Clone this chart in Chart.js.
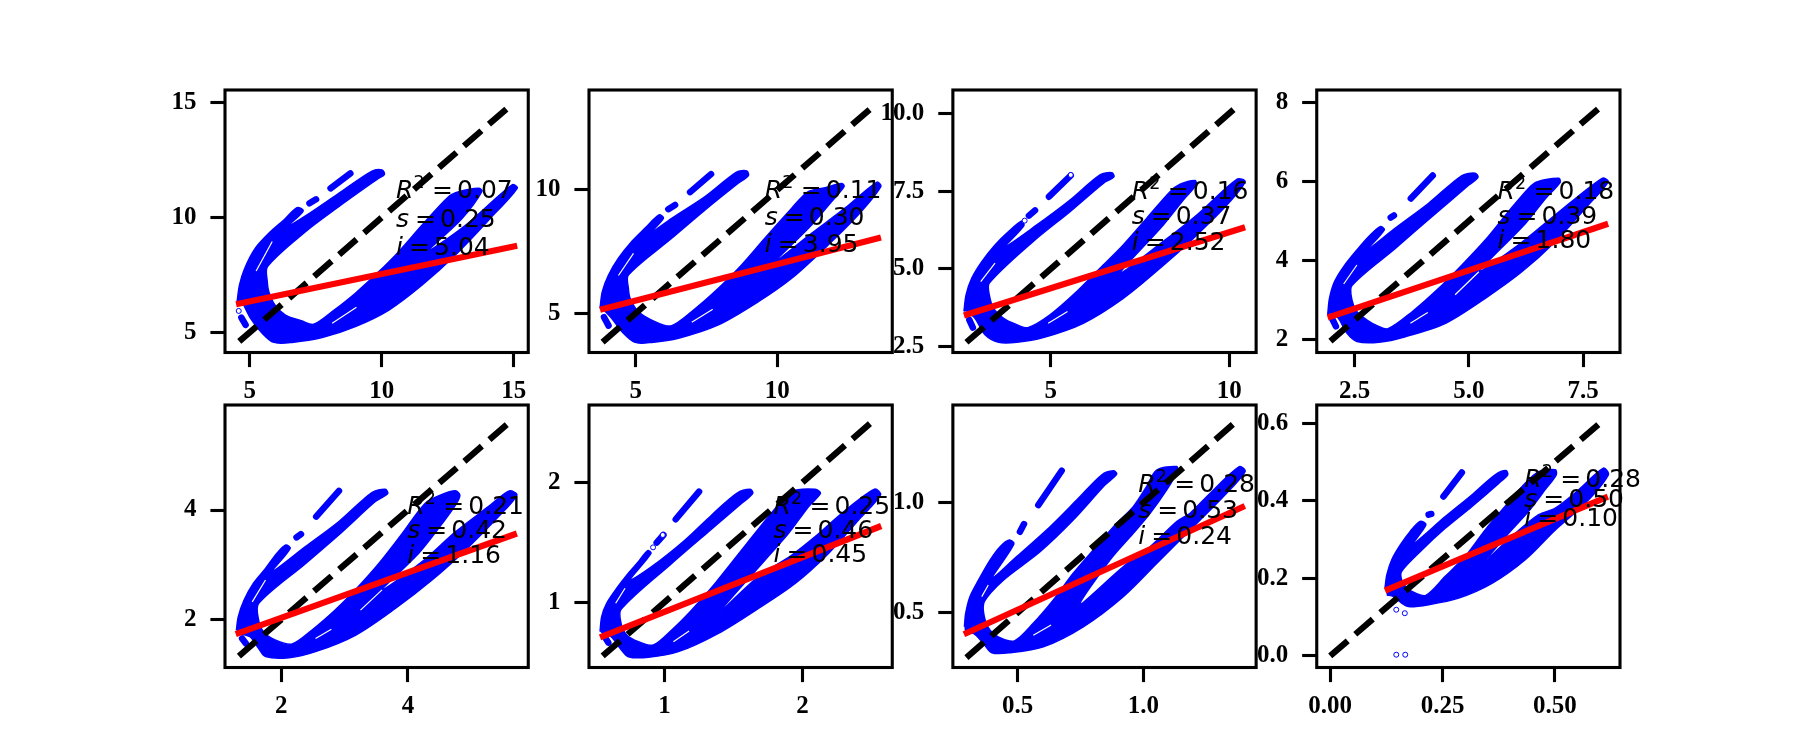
<!DOCTYPE html>
<html><head><meta charset="utf-8">
<style>html,body{margin:0;padding:0;background:#fff;width:1800px;height:750px;overflow:hidden}canvas{position:absolute}</style>
<script src="https://cdn.jsdelivr.net/npm/chart.js@4/dist/chart.umd.min.js"></script>
</head><body>
<script>
// Axis limits
const xLimits=[[4.06,15.55],[3.35,14.06],[2.26,10.75],[1.67,8.31],[1.11,5.90],[0.454,2.65],[0.242,1.449],[-0.03,0.645]];
const yLimits=[[4.12,15.55],[3.41,14.05],[2.31,10.75],[1.68,8.31],[1.12,5.92],[0.457,2.644],[0.251,1.444],[-0.03,0.647]];
const xTicks=[[5,10,15],[5,10],[5,10],[2.5,5,7.5],[2,4],[1,2],[0.5,1],[0,0.25,0.5]];
const yTicks=[[5,10,15],[5,10],[2.5,5,7.5,10],[2,4,6,8],[2,4],[1,2],[0.5,1],[0,0.2,0.4,0.6]];
const xDecimals=[0,0,0,1,0,0,1,2];
const yDecimals=[0,0,1,0,0,0,1,1];
// Fit statistics
const r2Values=['0.07','0.11','0.16','0.18','0.21','0.25','0.28','0.28'];
const slopeValues=['0.25','0.30','0.37','0.39','0.42','0.46','0.53','0.50'];
const interceptValues=['5.04','3.95','2.52','1.80','1.16','0.45','0.24','0.10'];
const statX=[10.54,9.56,7.27,5.63,3.99,1.79,0.98,0.432];
const statY=[[10.83,9.60,8.37],[9.66,8.58,7.5],[7.25,6.43,5.62],[5.56,4.92,4.31],[3.93,3.48,3.04],[1.74,1.54,1.34],[1.05,0.929,0.812],[0.435,0.384,0.335]];
// Regression lines [x0,y0,x1,y1]
const fitLines=[[4.48,6.22,15.13,8.77],[3.74,5.14,13.66,8.07],[2.57,3.50,10.44,6.34],[1.91,2.56,8.05,4.93],[1.28,1.73,5.72,3.57],[0.534,0.708,2.57,1.636],[0.286,0.402,1.404,0.985],[0.122,0.168,0.618,0.411]];
// Identity line ends
const identityLines=[[4.6,14.8],[3.83,13.3],[2.64,10.16],[1.97,7.84],[1.33,5.56],[0.553,2.50],[0.296,1.365],[0,0.597]];
// Scatter cloud outlines, x,y pairs
const cloud1=[4.52,6.34,4.61,7.06,4.81,7.79,5.21,8.66,5.72,9.31,6.29,9.89,6.79,10.43,7.02,10.28,6.41,9.60,7.11,10.07,8.37,11.05,9.63,12.02,10.01,12.07,10.10,11.88,9.82,11.66,8.37,10.47,7.11,9.38,5.67,7.86,5.66,7.21,5.72,6.77,5.95,6.19,6.35,5.75,6.98,5.49,7.42,5.35,8.12,5.90,9.0,6.70,9.89,7.64,10.64,8.51,11.53,9.67,12.54,10.91,12.92,11.12,13.67,11.27,13.80,11.15,13.04,9.96,11.72,8.51,13.11,9.60,14.94,11.42,15.13,11.27,14.05,9.89,12.79,8.37,11.53,7.06,10.27,5.97,9.0,5.25,7.74,4.77,6.60,4.56,5.91,4.56,5.47,4.96,5.03,5.61,4.71,6.34];
const cloud2=[3.74,5.20,3.82,5.88,4.04,6.55,4.39,7.23,4.86,7.91,5.33,8.45,5.82,8.99,5.98,8.85,5.51,8.24,6.27,8.85,7.45,9.73,8.56,10.72,8.92,10.77,8.98,10.58,8.62,10.27,7.45,9.19,6.27,8.04,4.74,6.55,4.74,6.01,4.80,5.61,5.09,5.07,5.68,4.66,6.25,4.49,6.98,5.07,7.92,6.01,8.74,6.96,9.56,8.04,10.51,9.26,11.09,9.93,11.68,10.09,12.27,10.26,12.36,10.14,11.92,9.53,11.21,8.58,9.92,7.09,11.21,8.24,12.39,9.26,13.51,10.31,13.66,10.14,12.86,8.99,11.68,7.64,10.51,6.42,9.33,5.47,7.92,4.53,6.51,3.99,5.56,3.82,4.98,3.82,4.51,4.26,4.15,4.80,3.82,5.20];
const cloud3=[2.57,3.63,2.63,4.16,2.79,4.70,3.07,5.23,3.44,5.77,3.82,6.20,4.19,6.54,4.25,6.39,3.72,5.71,4.61,6.41,5.54,7.21,6.38,8.02,6.71,8.09,6.77,7.96,6.47,7.75,5.54,6.84,4.51,5.88,3.28,4.54,3.28,4.16,3.40,3.73,3.68,3.41,4.00,3.23,4.36,3.11,4.98,3.52,5.73,4.27,6.38,5.02,7.03,5.77,7.69,6.63,8.34,7.48,8.62,7.72,9.04,7.84,9.07,7.70,8.71,7.21,8.15,6.41,6.94,4.86,8.15,5.88,9.09,6.73,10.21,7.88,10.44,7.80,9.93,7.05,8.99,5.98,8.06,5.02,7.03,4.05,5.91,3.25,4.79,2.79,4.05,2.64,3.54,2.64,3.16,2.88,2.88,3.41,2.65,3.63];
const cloud4=[1.91,2.63,1.95,3.05,2.06,3.47,2.26,3.85,2.55,4.27,2.81,4.61,3.06,4.86,3.15,4.78,2.77,4.27,3.39,4.82,4.12,5.45,4.85,6.15,5.14,6.21,5.20,6.10,5.00,5.91,4.19,5.11,3.39,4.31,2.44,3.37,2.44,3.01,2.55,2.71,2.77,2.50,2.99,2.36,3.23,2.28,3.76,2.71,4.34,3.30,4.85,3.89,5.36,4.52,5.87,5.24,6.31,5.83,6.49,5.99,6.97,6.08,7.00,5.98,6.68,5.57,6.24,4.94,5.22,3.72,6.09,4.40,6.89,5.15,7.92,6.08,8.05,5.99,7.62,5.41,6.89,4.48,6.16,3.72,5.36,3.05,4.49,2.42,3.61,2.08,3.03,1.94,2.55,1.96,2.33,2.17,2.14,2.55,1.97,2.67];
const cloud5=[1.29,1.80,1.32,2.05,1.41,2.35,1.56,2.66,1.75,2.93,1.93,3.21,2.07,3.36,2.14,3.30,1.85,2.87,2.38,3.33,2.91,3.79,3.43,4.32,3.64,4.38,3.68,4.30,3.48,4.15,2.96,3.60,2.38,3.02,1.64,2.29,1.64,1.99,1.72,1.77,1.91,1.62,2.17,1.55,2.48,1.80,2.85,2.17,3.17,2.54,3.54,3.02,3.91,3.57,4.27,4.12,4.51,4.27,4.75,4.35,4.82,4.27,4.75,4.09,4.48,3.66,4.17,3.21,3.59,2.54,4.22,3.05,4.75,3.60,5.27,4.06,5.60,4.35,5.72,4.27,5.43,3.88,4.91,3.27,4.38,2.72,3.80,2.20,3.17,1.71,2.54,1.41,2.12,1.30,1.75,1.32,1.64,1.47,1.51,1.68,1.35,1.74];
const cloud6=[0.534,0.756,0.546,0.881,0.582,0.992,0.655,1.117,0.739,1.242,0.812,1.339,0.879,1.431,0.903,1.408,0.751,1.186,0.908,1.297,1.150,1.519,1.343,1.728,1.524,1.908,1.621,1.942,1.640,1.908,1.560,1.825,1.319,1.589,1.053,1.325,0.686,0.942,0.686,0.825,0.727,0.728,0.812,0.672,0.920,0.644,1.053,0.769,1.198,0.936,1.367,1.158,1.560,1.436,1.754,1.714,1.923,1.922,2.092,1.942,2.130,1.908,2.043,1.797,1.899,1.575,1.729,1.353,1.391,0.908,1.681,1.214,1.923,1.394,2.092,1.547,2.285,1.742,2.522,1.942,2.565,1.894,2.406,1.686,2.188,1.408,1.947,1.158,1.681,0.950,1.391,0.742,1.101,0.589,0.884,0.542,0.739,0.547,0.679,0.617,0.614,0.714,0.558,0.728];
const cloud7=[0.288,0.436,0.293,0.497,0.310,0.573,0.344,0.648,0.390,0.739,0.430,0.800,0.467,0.830,0.485,0.812,0.397,0.656,0.496,0.755,0.629,0.891,0.735,1.012,0.834,1.126,0.881,1.145,0.894,1.130,0.847,1.080,0.721,0.921,0.589,0.777,0.443,0.648,0.367,0.550,0.367,0.482,0.390,0.421,0.436,0.383,0.489,0.373,0.562,0.452,0.642,0.558,0.721,0.679,0.801,0.785,0.894,0.906,0.960,0.982,1.013,1.073,1.053,1.148,1.133,1.164,1.135,1.141,1.093,1.058,1.027,0.952,0.960,0.861,0.867,0.739,0.748,0.539,0.920,0.709,1.027,0.800,1.133,0.914,1.186,0.952,1.265,1.042,1.382,1.164,1.405,1.141,1.318,1.027,1.186,0.876,1.053,0.724,0.920,0.573,0.761,0.436,0.602,0.345,0.469,0.318,0.397,0.318,0.363,0.361,0.324,0.406,0.290,0.406];
const cloud8=[0.122,0.175,0.126,0.209,0.137,0.248,0.156,0.286,0.178,0.321,0.200,0.347,0.213,0.338,0.182,0.286,0.256,0.359,0.315,0.415,0.367,0.467,0.391,0.478,0.395,0.467,0.375,0.445,0.315,0.385,0.256,0.329,0.204,0.273,0.159,0.218,0.159,0.196,0.171,0.175,0.189,0.162,0.213,0.156,0.256,0.205,0.300,0.256,0.345,0.325,0.389,0.385,0.434,0.445,0.464,0.475,0.501,0.480,0.503,0.467,0.478,0.428,0.441,0.372,0.397,0.316,0.349,0.249,0.404,0.308,0.464,0.364,0.501,0.381,0.553,0.428,0.608,0.484,0.619,0.467,0.568,0.394,0.501,0.325,0.434,0.248,0.360,0.187,0.286,0.149,0.219,0.132,0.174,0.127,0.159,0.136,0.141,0.153,0.126,0.157];
// Detached streaks, each x0,y0,x1,y1
const streaks=[
 [[7.26,10.62,7.51,10.79],[8.06,11.27,8.81,11.92],[4.68,5.64,4.84,5.32]],
 [[6.15,9.22,6.39,9.39],[6.92,9.91,7.66,10.64],[3.88,4.84,4.04,4.50]],
 [[4.39,6.71,4.56,6.88],[4.95,7.32,5.56,8.0],[2.72,3.36,2.82,3.11]],
 [[3.29,5.09,3.36,5.14],[3.73,5.57,4.21,6.15],[2.00,2.55,2.09,2.34]],
 [[2.24,3.50,2.31,3.56],[2.55,3.88,2.91,4.35],[1.38,1.65,1.44,1.56]],
 [[0.944,1.497,0.993,1.561],[1.082,1.692,1.251,1.922],[0.575,0.70,0.594,0.664]],
 [[0.509,0.868,0.525,0.903],[0.582,0.989,0.675,1.145]],
 [[0.219,0.364,0.225,0.366],[0.252,0.411,0.293,0.473]]
];
// Narrow empty slits inside the cloud, each x0,y0,x1,y1
const slits=[
 [[8.12,5.39,9.04,6.09],[5.24,7.67,5.85,8.95]],
 [[6.98,4.64,7.72,5.16],[4.39,6.53,4.92,7.43]],
 [[4.93,3.25,5.47,3.63],[3.04,4.59,3.44,5.18]],
 [[3.72,2.42,4.10,2.69],[2.26,3.41,2.55,3.89],[4.70,3.14,5.22,3.72]],
 [[2.54,1.65,2.79,1.82],[1.54,2.32,1.75,2.72],[3.25,2.17,3.59,2.54]],
 [[1.065,0.672,1.179,0.761],[0.647,0.992,0.715,1.117]],
 [[0.562,0.398,0.633,0.444],[0.357,0.573,0.383,0.626]],
 []
];
// Isolated open points, x,y pairs
const openPoints=[[4.58,5.93],[],[4.27,6.55,5.56,8.02],[],[],[0.918,1.458,0.988,1.561],[],[0.147,0.119,0.166,0.110,0.147,0.003,0.167,0.003]];
const clouds=[cloud1,cloud2,cloud3,cloud4,cloud5,cloud6,cloud7,cloud8];

const frameW=303.26,frameH=262.5,colX=[225,589,952.87,1316.74],rowY=[90,405];
const BLUE='#0000ff',TEXT='"DejaVu Sans"',TICKFONT='"Liberation Serif"';
const pairs=a=>{const r=[];for(let i=0;i<a.length;i+=2)r.push({x:a[i],y:a[i+1]});return r;};
const lineDs=(a,o)=>Object.assign({data:pairs(a),pointRadius:0,fill:false,tension:0,borderCapStyle:'butt'},o);

function panel(i){
  const fx=colX[i%4],fy=rowY[i<4?0:1],cl=Math.floor(fx-85),ct=Math.floor(fy-40),W=Math.ceil(frameW)+85+70,H=Math.ceil(frameH)+40+60;
  const c=document.createElement('canvas');c.width=W;c.height=H;c.style.left=cl+'px';c.style.top=ct+'px';c.style.width=W+'px';c.style.height=H+'px';document.body.appendChild(c);
  const ds=[];
  const [f0,g0,f1,g1]=fitLines[i];
  ds.push(lineDs([f0,g0,f1,g1],{borderColor:'#ff0000',borderWidth:6.25}));
  const [a,b]=identityLines[i];
  ds.push(lineDs([a,a,b,b],{borderColor:'#000',borderWidth:6.25,borderDash:[23.1,10]}));
  if(openPoints[i].length)ds.push({data:pairs(openPoints[i]),showLine:false,pointRadius:2.5,pointBorderWidth:1,pointBorderColor:BLUE,pointBackgroundColor:'#fff'});
  slits[i].forEach(s=>ds.push(lineDs(s,{borderColor:'#fff',borderWidth:1.2})));
  streaks[i].forEach(s=>ds.push(lineDs(s,{borderColor:BLUE,borderWidth:6.5,borderCapStyle:'round'})));
  ds.push(lineDs(clouds[i],{borderColor:BLUE,backgroundColor:BLUE,borderWidth:1.5,fill:'shape',tension:0.3,borderJoinStyle:'round'}));
  const axis=(lim,ticks,dec,isX)=>({type:'linear',min:lim[0],max:lim[1],position:isX?'bottom':'left',
    afterBuildTicks:s=>{s.ticks=ticks.map(v=>({value:v}));},
    afterFit:s=>{if(isX)s.height=ct+H-(fy+frameH);else s.width=fx-cl;},
    grid:{display:true,drawOnChartArea:false,drawTicks:true,tickLength:14.6,tickWidth:3.1,tickColor:'#000'},
    border:{display:false},
    ticks:{autoSkip:false,maxRotation:0,minRotation:0,color:'#000',padding:isX?9:14,font:{family:TICKFONT,weight:'bold',size:25},callback:v=>v.toFixed(dec)}});
  new Chart(c,{type:'line',data:{datasets:ds},
    options:{responsive:false,animation:false,events:[],devicePixelRatio:1,
      layout:{padding:{left:0,top:fy-ct,right:cl+W-(fx+frameW),bottom:0}},
      plugins:{legend:{display:false},tooltip:{enabled:false},title:{display:false}},
      scales:{x:axis(xLimits[i],xTicks[i],xDecimals[i],true),y:axis(yLimits[i],yTicks[i],yDecimals[i],false)}},
    plugins:[{id:'frameAndStats',afterDraw(ch){
      const g=ch.ctx,ar=ch.chartArea,sx=ch.scales.x,sy=ch.scales.y;
      g.save();g.strokeStyle='#000';g.lineWidth=3.1;g.strokeRect(ar.left,ar.top,ar.right-ar.left,ar.bottom-ar.top);
      g.fillStyle='#000';g.textBaseline='alphabetic';g.textAlign='left';
      const X=sx.getPixelForValue(statX[i]);
      const Y=k=>sy.getPixelForValue(statY[i][k]);
      const t=(s,x,y,f)=>{g.font=f;g.fillText(s,x,y);};
      const n='25px '+TEXT,it='italic 25px '+TEXT;
      t('R',X,Y(0),it);t('2',X+17.5,Y(0)-10,'17.5px '+TEXT);t('=',X+36,Y(0),n);t(r2Values[i],X+61,Y(0),n);
      t('s',X,Y(1),it);t('=',X+19,Y(1),n);t(slopeValues[i],X+44,Y(1),n);
      t('i',X,Y(2),it);t('=',X+13,Y(2),n);t(interceptValues[i],X+38,Y(2),n);
      g.restore();
    }}]});
}
for(let i=0;i<8;i++)panel(i);
</script>
</body></html>
